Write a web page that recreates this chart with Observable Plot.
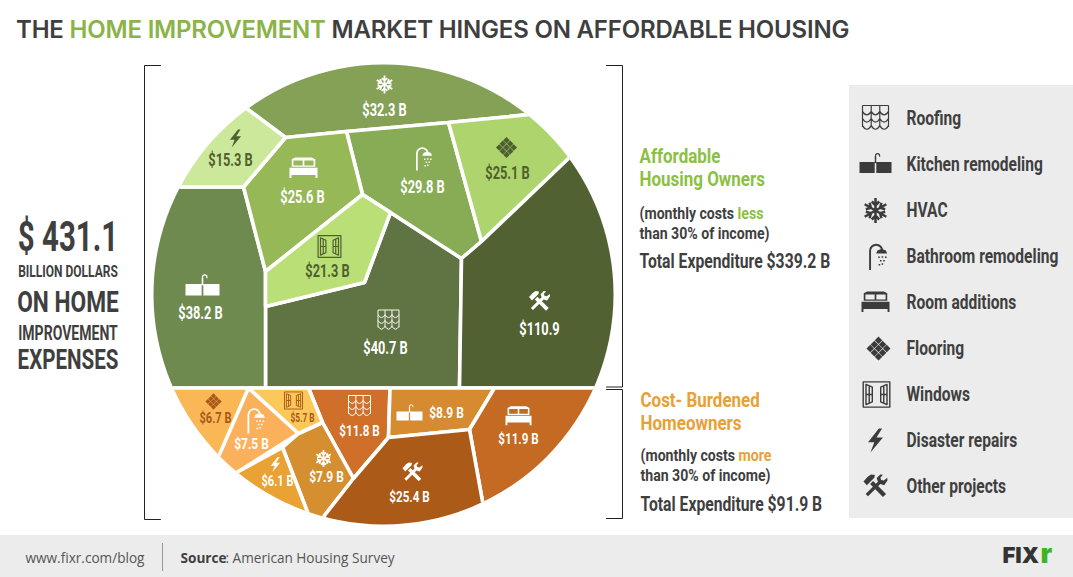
<!DOCTYPE html>
<html><head><meta charset="utf-8">
<script src="https://cdn.jsdelivr.net/npm/d3@7"></script>
<script src="https://cdn.jsdelivr.net/npm/@observablehq/plot@0.6"></script>
<style>
html,body{margin:0;padding:0;background:#fff;width:1073px;height:577px;overflow:hidden}
#title{height:50px;padding-left:16px;font:600 24px/59px Inter,"Open Sans",sans-serif;color:#3f3f3f;letter-spacing:-.19px;white-space:nowrap}
#title span{color:#8bb34a}
svg{display:block}
</style></head><body>
<div id="title">THE <span>HOME IMPROVEMENT</span> MARKET HINGES ON AFFORDABLE HOUSING</div>
<div id="chart"></div>
<script>
const categories=["Roofing","Kitchen remodeling","HVAC","Bathroom remodeling","Room additions","Flooring","Windows","Disaster repairs","Other projects"];
const icons=["roof","sink","snow","shower","bed","floor","window","bolt","tools"];
const ownerValues=[40.7,38.2,32.3,29.8,25.6,25.1,21.3,15.3,110.9];
const burdenedValues=[11.8,8.9,7.9,7.5,11.9,6.7,5.7,6.1,25.4];
const ownerFills=["#5f7343","#6e8a4e","#85a156","#88ac56","#96b857","#aed46e","#badf76","#cce89b","#526132"];
const burdenedFills=["#cf6f29","#d68b30","#d58e30","#fbb05c","#c56a22","#f9b855","#fdc85a","#e9a233","#ab5a18"];
const ownerInk=["#fff","#fff","#fff","#fff","#fff","#4f6030","#4f6030","#4f6030","#fff"];
const burdenedInk=["#fff","#fff","#fff","#fff","#fff","#a9581a","#a9581a","#fff","#fff"];
// Voronoi cell outlines; outer corners run past the circle, which clips them
const ownerCells=[
 [[364,282],[390,212],[461,258],[459,387.5],[265,387.5],[265,306]],
 [[243,186.5],[265,271],[265,387.5],[120,387.5],[120,186.5]],
 [[215,85],[285,137],[346,131],[448,122],[560,111],[500,40],[250,40]],
 [[346,131],[448,122],[481,241],[461,258],[390,212],[362,194]],
 [[285,137],[346,131],[362,194],[265,271],[243,186.5]],
 [[448,122],[560,111],[600,125],[568,158],[481,241]],
 [[265,271],[362,194],[390,212],[364,282],[265,306]],
 [[215,85],[285,137],[243,186.5],[120,186.5]],
 [[461,258],[481,241],[568,158],[640,90],[640,387.5],[459,387.5]]
];
const burdenedCells=[
 [[308,387.5],[389.5,387.5],[388,437],[353,478],[322,422]],
 [[389.5,387.5],[494,387.5],[469,429],[388,437]],
 [[322,422],[353,478],[324,515],[318,540],[282,447],[298,433]],
 [[248,387.5],[298,433],[238,471],[200,495],[205,470]],
 [[497,387.5],[640,387.5],[640,400],[490,545],[469,429],[494,387.5]],
 [[150,387.5],[248,387.5],[219,454],[205,470],[150,470]],
 [[248,387.5],[308,387.5],[322,422],[298,433]],
 [[238,471],[282,447],[318,540],[200,495]],
 [[353,478],[388,437],[469,429],[490,545],[400,560],[318,540],[324,515]]
];
const ownerValueSpots=[[385,348],[200,313],[384,110],[422,187],[302,197],[507,173],[327,271],[230,160],[539,329]];
const ownerIconSpots=[[388,320],[202,286],[384,84],[423,158],[303,168],[506,147],[329,246],[235,138],[539,301]];
const ownerIconSizes=[10.5,17,9,12,14,11,12,9,10.5];
const burdenedValueSpots=[[359,431],[446,413],[326,477],[251,444],[518,439],[215,418],[302,418],[277,481],[409,497]];
const burdenedIconSpots=[[359,406],[409,413],[323,458],[255,420],[518,416],[213,401],[293,400],[275,464],[412,472]];
const burdenedIconSizes=[11,13,8.5,13,13,8.5,9.5,7.5,10];
const legendRows=[118,164,210,256,302,348,394,440,486];
const legendIconX=[875,875,875,877,875,878,876,875,875];
const legendIconSizes=[13,16,12.5,13.5,14,12.5,14,12,12];
const leftTexts=[
 {t:"$ 431.1",x:67.5,y:237,s:43,c:"#3f3f3f",k:.685},
 {t:"BILLION DOLLARS",x:67.5,y:271,s:16,c:"#3f3f3f",k:.75},
 {t:"ON HOME",x:67.5,y:302,s:30,c:"#3f3f3f",k:.757},
 {t:"IMPROVEMENT",x:67.5,y:333,s:19.5,c:"#3f3f3f",k:.72},
 {t:"EXPENSES",x:67.5,y:360,s:28,c:"#3f3f3f",k:.735}
];
const rightTexts=[
 {t:"Affordable",x:639,y:156,s:20.5,c:"#8cc043",k:.828},
 {t:"Housing Owners",x:639,y:179,s:20.5,c:"#8cc043",k:.828},
 {t:"(monthly costs less",x:639,y:213,s:17,c:"#3f3f3f",k:.83,w:"less",wc:"#8cc043"},
 {t:"than 30% of income)",x:639,y:233,s:17,c:"#3f3f3f",k:.83},
 {t:"Total Expenditure $339.2 B",x:639,y:261,s:20.5,c:"#3f3f3f",k:.767},
 {t:"Cost- Burdened",x:640,y:400,s:20.5,c:"#e9a035",k:.828},
 {t:"Homeowners",x:640,y:423,s:20.5,c:"#e9a035",k:.828},
 {t:"(monthly costs more",x:640,y:455,s:17,c:"#3f3f3f",k:.83,w:"more",wc:"#e9a035"},
 {t:"than 30% of income)",x:640,y:475,s:17,c:"#3f3f3f",k:.83},
 {t:"Total Expenditure $91.9 B",x:640,y:504,s:20.5,c:"#3f3f3f",k:.767}
];
const circle={cx:383,cy:294,r:230};
const heavy='Roboto,sans-serif';

// icon drawing: coordinates are unit offsets, scaled by the vector length
const area=p=>p.reduce((s,[x,y],i)=>{const [a,b]=p[(i+1)%p.length];return s+x*b-a*y},0);
const trace=(c,l,p)=>{p.forEach(([x,y],i)=>i?c.lineTo(x*l,y*l):c.moveTo(x*l,y*l));c.closePath()};
const poly=(c,l,p)=>trace(c,l,area(p)>0?p:[...p].reverse());
const line=(c,l,p)=>{p.forEach(([x,y],i)=>i?c.lineTo(x*l,y*l):c.moveTo(x*l,y*l))};
const rect=(c,l,a,b,w,h)=>poly(c,l,[[a,b],[a+w,b],[a+w,b+h],[a,b+h]]);
const hole=(c,l,a,b,w,h)=>trace(c,l,[[a,b],[a,b+h],[a+w,b+h],[a+w,b]]);
const shapes={
 snow:{sw:.2,stroke(c,l){for(let k=0;k<6;k++){const t=k*Math.PI/3+Math.PI/2,u=Math.cos(t),v=Math.sin(t),px=-v,py=u,d=.42,b=.3;
   line(c,l,[[0,0],[u,v]]);
   line(c,l,[[u*(d+.3)+px*b,v*(d+.3)+py*b],[u*d,v*d],[u*(d+.3)-px*b,v*(d+.3)-py*b]]);}}},
 bolt:{fill(c,l){poly(c,l,[[.28,-1],[-.62,.15],[-.1,.15],[-.42,1],[.62,-.25],[.08,-.25],[.55,-1]])}},
 bed:{fill(c,l){
   poly(c,l,[[-.84,-.66],[-.6,-.78],[.6,-.78],[.84,-.66],[.84,-.12],[-.84,-.12]]);
   hole(c,l,-.72,-.58,.66,.36);hole(c,l,.06,-.58,.66,.36);
   rect(c,l,-1,-.05,2,.52);rect(c,l,-1,.47,.14,.2);rect(c,l,.86,.47,.14,.2)}},
 sink:{sw:.07,fill(c,l){rect(c,l,-1,-.15,.95,.68);rect(c,l,.05,-.15,.95,.68);
   rect(c,l,-.045,-.5,.09,.42);},
   stroke(c,l){c.moveTo(0,-.35*l);c.lineTo(0,-.55*l);c.arc(.13*l,-.55*l,.13*l,Math.PI,0);c.lineTo(.26*l,-.48*l)}},
 shower:{sw:.14,stroke(c,l){c.moveTo(-.55*l,1*l);c.lineTo(-.55*l,-.42*l);c.arc(-.1*l,-.42*l,.45*l,Math.PI,0);},
   fill(c,l){poly(c,l,[[-.1,-.22],[.72,-.22],[.62,-.45],[.31,-.58],[0,-.45]]);
   for(const [x,y] of [[.05,0],[.3,-.02],[.55,0],[.18,.25],[.42,.25],[.3,.5],[.08,.55]]) rect(c,l,x,y,.12,.12)}},
 floor:{fill(c,l){const d=.33,r=.3;for(let i=-1;i<=1;i++)for(let j=-1;j<=1;j++){
   const x=(i-j)*d,y=(i+j)*d;poly(c,l,[[x,y-r],[x+r,y],[x,y+r],[x-r,y]])}}},
 window:{sw:.1,stroke(c,l){poly(c,l,[[-.95,-.9],[.95,-.9],[.95,.9],[-.95,.9]]);
   poly(c,l,[[-.75,-.72],[-.3,-.52],[-.3,.52],[-.75,.72]]);poly(c,l,[[.75,-.72],[.3,-.52],[.3,.52],[.75,.72]]);
   line(c,l,[[-.52,-.62],[-.52,.62]]);line(c,l,[[.52,-.62],[.52,.62]]);line(c,l,[[-.75,0],[-.3,0]]);line(c,l,[[.3,0],[.75,0]])}},
 roof:{sw:.09,stroke(c,l){const xs=[-1,-.33,.33,1];line(c,l,[[-1,-1],[1,-1]]);
   xs.forEach(x=>line(c,l,[[x,-1],[x,.65]]));
   for(const y of [-.55,.0,.55]) for(let k=0;k<3;k++){c.moveTo(xs[k]*l,y*l);c.quadraticCurveTo((xs[k]+.33)*l,(y+.55)*l,xs[k+1]*l,y*l)}}},
 tools:{fill(c,l){poly(c,l,[[.88,.62],[.62,.88],[-.45,-.2],[-.2,-.45]]);
   poly(c,l,[[-1,-.42],[-.72,-.1],[-.1,-.72],[-.05,-.95],[-.38,-1],[-.65,-.82]]);
   poly(c,l,[[-.82,.62],[-.62,.82],[.4,-.2],[.2,-.4]]);
   poly(c,l,[[.2,-.4],[.1,-.7],[.4,-1],[.62,-.98],[.4,-.72],[.48,-.55],[.7,-.5],[.98,-.72],[1,-.5],[.72,-.1],[.4,-.2]])}}
};
const rows=(vals,vSpots,iSpots,ink,sizes)=>categories.map((cat,i)=>({cat,icon:icons[i],v:vals[i],vx:vSpots[i][0],vy:vSpots[i][1],x:iSpots[i][0],y:iSpots[i][1],ink:ink[i],size:sizes[i]}));
const ownerRows=rows(ownerValues,ownerValueSpots,ownerIconSpots,ownerInk,ownerIconSizes);
const burdenedRows=rows(burdenedValues,burdenedValueSpots,burdenedIconSpots,burdenedInk,burdenedIconSizes);
const legend=categories.map((cat,i)=>({cat,icon:icons[i],x:legendIconX[i],y:legendRows[i],ink:"#3b3b3b",size:legendIconSizes[i]}));
const outlines=[];
ownerCells.forEach((p,i)=>p.forEach(([x,y])=>outlines.push({x,y,k:"o"+i,f:ownerFills[i]})));
burdenedCells.forEach((p,i)=>p.forEach(([x,y])=>outlines.push({x,y,k:"b"+i,f:burdenedFills[i]})));

const clipRender=function(index,scales,values,dim,ctx,next){
  const g=next(index,scales,values,dim,ctx);
  const ns="http://www.w3.org/2000/svg";
  const cp=document.createElementNS(ns,"clipPath");cp.setAttribute("id","pie");
  const ci=document.createElementNS(ns,"circle");
  ci.setAttribute("cx",scales.x(circle.cx));ci.setAttribute("cy",scales.y(circle.cy));ci.setAttribute("r",circle.r);
  cp.appendChild(ci);g.insertBefore(cp,g.firstChild);g.setAttribute("clip-path","url(#pie)");return g};
// condenses each text horizontally (no narrow face is installed) and colours a highlighted word
const squash=(list,kf)=>function(index,scales,values,dim,ctx,next){
  const g=next(index,scales,values,dim,ctx);
  g.querySelectorAll("text").forEach((el,n)=>{const d=list[index[n]];
    el.setAttribute("transform",(el.getAttribute("transform")||"")+` scale(${kf(d)},1)`);
    if(d.w){el.textContent=d.t.slice(0,d.t.length-d.w.length);
      const sp=document.createElementNS("http://www.w3.org/2000/svg","tspan");sp.setAttribute("fill",d.wc);sp.textContent=d.w;el.appendChild(sp)}});
  return g};

function iconMarks(list){
  const m=[];
  for(const d of list){
    const s=shapes[d.icon];
    if(s.fill)m.push(Plot.vector([d],{x:"x",y:"y",length:d.size,rotate:0,anchor:"start",shape:{draw:(c,l)=>s.fill(c,l)},fill:"ink",stroke:null}));
    if(s.stroke)m.push(Plot.vector([d],{x:"x",y:"y",length:d.size,rotate:0,anchor:"start",shape:{draw:(c,l)=>s.stroke(c,l)},stroke:"ink",fill:"none",strokeWidth:d.size*s.sw,strokeLinecap:"butt"}));
  }
  return m;
}
const fmt=d=>d.v>100?`$${d.v}`:`$${d.v} B`;
const sizeB=d=>d.v<6?12:d.v<7?15:15.5;
const kB=d=>d.v<6?.69:d.v<7?.735:d.v<10?.77:.75;
const panel=[{x1:849,x2:1073,y1:85,y2:518}];
const footer=[{x1:0,x2:1073,y1:535,y2:577}];

const plot=Plot.plot({
  width:1073,height:527,margin:0,
  x:{domain:[0,1073],range:[0,1073],axis:null},
  y:{domain:[50,577],range:[0,527],axis:null},
  color:{type:"identity"},
  style:{background:"none",overflow:"visible"},
  marks:[
    Plot.rect(panel,{x1:"x1",x2:"x2",y1:"y1",y2:"y2",fill:"#ececec"}),
    Plot.rect(footer,{x1:"x1",x2:"x2",y1:"y1",y2:"y2",fill:"#ececec"}),
    Plot.line(outlines,{x:"x",y:"y",z:"k",fill:"f",stroke:"#fff",strokeWidth:3.6,strokeLinejoin:"miter",curve:"linear-closed",render:clipRender}),
    Plot.line([[160,65],[144,65],[144,519],[160,519]],{stroke:"#222",strokeWidth:1}),
    Plot.line([[606,65],[622,65],[622,386.5],[606,386.5]],{stroke:"#222",strokeWidth:1}),
    Plot.line([[606,389],[622,389],[622,518],[606,518]],{stroke:"#222",strokeWidth:1}),
    ...iconMarks(ownerRows),
    ...iconMarks(burdenedRows),
    ...iconMarks(legend),
    Plot.text(ownerRows,{x:"vx",y:"vy",text:fmt,fill:"ink",fontFamily:heavy,fontWeight:700,fontSize:17.5,render:squash(ownerRows,()=>.73)}),
    Plot.text(burdenedRows,{x:"vx",y:"vy",text:fmt,fill:"ink",fontFamily:heavy,fontWeight:700,fontSize:sizeB,render:squash(burdenedRows,kB)}),
    Plot.text(leftTexts,{x:"x",y:"y",text:"t",fill:"c",fontSize:"s",textAnchor:"middle",fontFamily:heavy,fontWeight:700,render:squash(leftTexts,d=>d.k)}),
    Plot.text(rightTexts,{x:"x",y:"y",text:"t",fill:"c",fontSize:"s",textAnchor:"start",fontFamily:heavy,fontWeight:700,render:squash(rightTexts,d=>d.k)}),
    Plot.text(legend,{x:906,y:"y",text:"cat",fill:"#3f3f3f",fontFamily:heavy,fontWeight:700,fontSize:20.5,textAnchor:"start",render:squash(legend,()=>.76)}),
    Plot.text(["www.fixr.com/blog"],{x:25,y:558,fill:"#555",fontFamily:'"Open Sans"',fontSize:13.6,textAnchor:"start"}),
    Plot.ruleX([162],{y1:543,y2:571,stroke:"#999",strokeWidth:1}),
    Plot.text(["Source"],{x:180,y:558,fill:"#3f3f3f",fontFamily:'"Open Sans"',fontWeight:700,fontSize:13.6,textAnchor:"start"}),
    Plot.text([": American Housing Survey"],{x:225,y:558,fill:"#555",fontFamily:'"Open Sans"',fontSize:13.6,textAnchor:"start"}),
    Plot.text(["FIX"],{x:1002,y:555,fill:"#333",fontFamily:'Inter',fontWeight:900,fontSize:22,textAnchor:"start"}),
    Plot.text(["r"],{x:1040,y:554,fill:"#3cb521",fontFamily:'Inter',fontWeight:900,fontSize:27,textAnchor:"start"})
  ]
});
document.getElementById("chart").appendChild(plot);
</script></body></html>
